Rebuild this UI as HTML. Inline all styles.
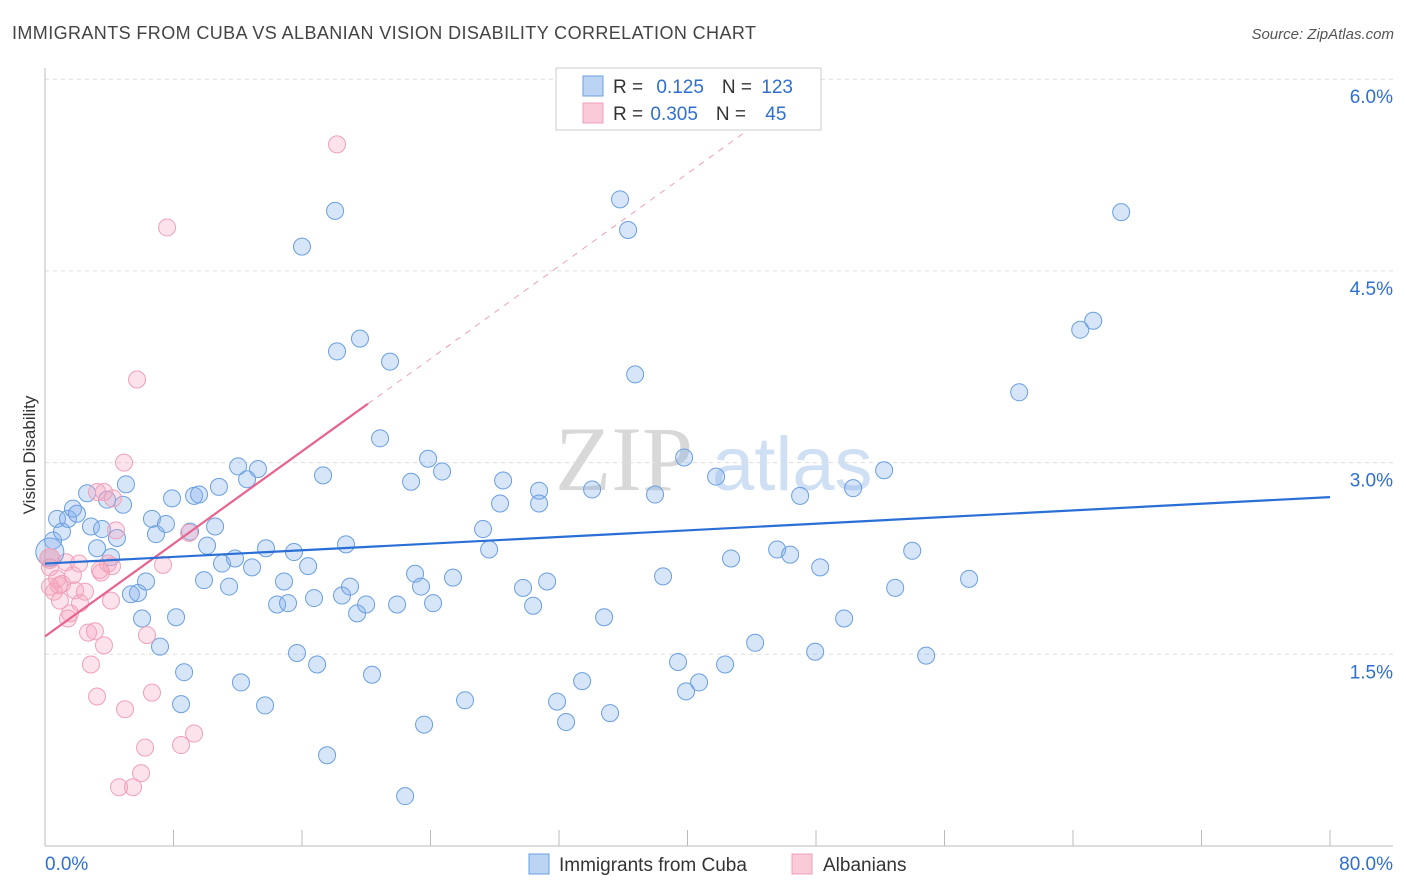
<!DOCTYPE html>
<html><head><meta charset="utf-8"><style>
body{margin:0;background:#fff;font-family:"Liberation Sans",sans-serif}
#wrap{position:relative;width:1406px;height:892px;overflow:hidden}
</style></head><body>
<div id="wrap">
<svg id="svg" width="1406" height="892" xmlns="http://www.w3.org/2000/svg">
<text x="12" y="39" font-size="18" letter-spacing="0.4" fill="#444">IMMIGRANTS FROM CUBA VS ALBANIAN VISION DISABILITY CORRELATION CHART</text>
<text x="1394" y="39" font-size="15" font-style="italic" fill="#555" text-anchor="end">Source: ZipAtlas.com</text>
<text x="35" y="455" font-size="17" fill="#333" transform="rotate(-90 35 455)" text-anchor="middle">Vision Disability</text>
<g><text x="555" y="490" font-family="Liberation Serif" font-size="92" fill="#d8d8d8">ZIP</text><text x="712" y="490" font-size="76" fill="#cfe0f4">atlas</text></g>
<g id="grid"></g><g id="marks"></g><g id="trend"></g>
<g>
<rect x="556" y="68" width="265" height="62" fill="#fff" stroke="#ccc"/>
<rect x="583" y="76" width="20" height="20" fill="#bcd4f4" stroke="#6a9fe0"/>
<rect x="583" y="103" width="20" height="20" fill="#f9cad8" stroke="#f0a0b8"/>
<text x="613" y="93" font-size="19" fill="#333">R = <tspan fill="#2f6fd0" dx="8">0.125</tspan><tspan dx="18" fill="#333">N = </tspan><tspan fill="#2f6fd0" dx="4">123</tspan></text>
<text x="613" y="120" font-size="19" fill="#333">R = <tspan fill="#2f6fd0" dx="2">0.305</tspan><tspan dx="18" fill="#333">N = </tspan><tspan fill="#2f6fd0" dx="14">45</tspan></text>
</g>
<g>
<rect x="529" y="854" width="20" height="20" fill="#bcd4f4" stroke="#6a9fe0"/>
<text x="559" y="871" font-size="19" fill="#333">Immigrants from Cuba</text>
<rect x="792" y="854" width="20" height="20" fill="#f9cad8" stroke="#f0a0b8"/>
<text x="823" y="871" font-size="19" fill="#333">Albanians</text>
</g>
<text x="45" y="870" font-size="19" fill="#2f6fd0">0.0%</text>
<text x="1393" y="870" font-size="19" fill="#2f6fd0" text-anchor="end">80.0%</text>
</svg>
</div>
<script>
const cubaX=[.50,.75,1.06,1.43,1.74,1.99,2.62,2.86,3.24,3.55,3.86,4.11,4.48,4.86,5.04,5.35,5.79,6.04,6.29,6.66,6.91,7.16,7.53,7.91,8.16,8.47,8.66,9.03,9.28,9.59,9.90,10.09,10.59,10.83,11.02,11.46,11.83,12.02,12.20,12.89,13.26,12.58,13.70,13.76,14.45,14.88,15.13,15.50,15.69,16.00,16.38,16.75,16.94,17.31,17.56,18.06,18.18,18.49,18.74,18.99,19.43,19.61,19.99,20.36,20.86,21.48,21.92,22.42,22.79,23.04,23.41,23.60,23.85,24.16,24.72,25.40,26.15,27.27,27.65,28.33,28.52,29.76,30.39,30.76,30.76,31.26,31.88,32.44,33.44,34.06,34.81,35.18,35.80,36.30,36.74,37.98,38.48,39.41,39.79,39.91,40.72,41.78,42.34,42.71,44.21,45.58,46.39,47.01,47.95,48.26,49.75,50.31,52.24,52.93,53.99,54.86,57.53,60.65,64.45,65.26,67.00];
const cubaY=[2.39,2.56,2.46,2.56,2.64,2.60,2.76,2.50,2.33,2.48,2.71,2.26,2.41,2.67,2.83,1.97,1.98,1.78,2.07,2.56,2.44,1.56,2.52,2.72,1.79,1.11,1.36,2.46,2.74,2.75,2.08,2.35,2.50,2.81,2.21,2.03,2.25,2.97,1.28,2.18,2.95,2.87,1.10,2.33,1.89,2.07,1.90,2.30,1.51,4.69,2.19,1.94,1.42,2.90,0.71,4.97,3.87,1.96,2.36,2.03,1.82,3.97,1.89,1.34,3.19,3.79,1.89,0.39,2.85,2.13,2.03,0.95,3.03,1.90,2.93,2.10,1.14,2.48,2.32,2.68,2.86,2.02,1.88,2.78,2.68,2.07,1.13,0.97,1.29,2.79,1.79,1.04,5.06,4.82,3.69,2.75,2.11,1.44,3.04,1.21,1.28,2.89,1.42,2.25,1.59,2.32,2.28,2.74,1.52,2.18,1.78,2.80,2.94,2.02,2.31,1.49,2.09,3.55,4.04,4.11,4.96];
const albX=[.31,.56,.75,.93,1.06,1.31,1.43,1.74,1.87,2.12,2.18,2.49,2.68,2.86,3.11,3.24,3.49,3.67,3.92,4.11,4.23,4.42,4.92,4.98,5.48,5.73,5.98,6.23,6.35,6.66,7.35,7.60,8.47,8.97,9.28,18.18,4.61,3.67,4.17,3.42,1.56,.31,.87,3.24];
const albY=[2.18,1.99,2.09,1.92,2.05,2.22,1.78,2.12,2.00,2.21,1.90,1.99,1.67,1.42,1.68,1.17,2.14,1.57,2.21,1.92,2.72,2.47,3.00,1.07,0.46,3.65,0.57,0.77,1.65,1.20,2.20,4.84,0.79,2.45,0.88,5.49,0.46,2.77,2.19,2.16,1.82,2.03,2.04,2.77];
const bigCuba=[0.3,2.3], bigAlb=[0.3,2.25];
const cubaTrend=[2.21,2.73];
const albTrend=[1.64,3.46,20.1];
const yTicks=[1.5,3.0,4.5,6.0];
const xTicks=[0,8,16,24,32,40,48,56,64,72,80];
const NS="http://www.w3.org/2000/svg";
const X0=45,X1=1330,Y0=846,YPX=127.8;
function sx(v){return X0+(v/80)*(X1-X0);}
function sy(v){return Y0-v*YPX;}
function mk(t,a,p){const e=document.createElementNS(NS,t);for(const k in a)e.setAttribute(k,a[k]);p.appendChild(e);return e;}
const grid=document.getElementById('grid'),marks=document.getElementById('marks'),trend=document.getElementById('trend');
yTicks.forEach(v=>{
 const l=mk('line',{x1:X0,x2:1393,y1:sy(v),y2:sy(v),stroke:'#ddd','stroke-dasharray':'4,4'},grid);
 
 
 const t=mk('text',{x:1393,y:sy(v)+24,'font-size':19,fill:'#2f6fd0','text-anchor':'end'},grid);
 t.textContent=v.toFixed(1)+'%';
 
 
});
const ax=mk('line',{x1:X0,x2:1393,y1:Y0,y2:Y0,stroke:'#bbb'},grid);


const ay=mk('line',{x1:X0,x2:X0,y1:68,y2:Y0,stroke:'#bbb'},grid);


xTicks.forEach(v=>{
 const l=mk('line',{x1:sx(v),x2:sx(v),y1:Y0-16,y2:Y0,stroke:'#bbb'},grid);
 
 
});
function dots(xs,ys,fill,stroke,name){
 xs.forEach((x,i)=>{
  const c=mk('circle',{cx:sx(x),cy:sy(ys[i]),r:8.5,fill:fill,stroke:stroke,'stroke-width':1},marks);
  
  
 });
}
dots(cubaX,cubaY,'rgba(130,175,235,0.32)','#6a9fe0','cuba-point');
dots(albX,albY,'rgba(245,165,190,0.32)','#f0a0b8','albanian-point');
const bc=mk('circle',{cx:sx(bigCuba[0]),cy:sy(bigCuba[1]),r:14,fill:'rgba(130,175,235,0.32)',stroke:'#6a9fe0'},marks);


const ba=mk('circle',{cx:sx(bigAlb[0]),cy:sy(bigAlb[1]),r:10,fill:'rgba(235,150,175,0.5)',stroke:'#f0a0b8'},marks);


const slope=(albTrend[1]-albTrend[0])/albTrend[2];
const xEnd=(6.0-albTrend[0])/slope;
const ad=mk('line',{x1:sx(albTrend[2]),y1:sy(albTrend[1]),x2:sx(xEnd),y2:sy(6.0),stroke:'#f0a0b8','stroke-dasharray':'6,6','stroke-width':1},trend);


const al=mk('line',{x1:sx(0),y1:sy(albTrend[0]),x2:sx(albTrend[2]),y2:sy(albTrend[1]),stroke:'#e8648f','stroke-width':2.2},trend);


const cl=mk('line',{x1:sx(0),y1:sy(cubaTrend[0]),x2:sx(80),y2:sy(cubaTrend[1]),stroke:'#2a6fd6','stroke-width':2.2},trend);


</script>
</body></html>
